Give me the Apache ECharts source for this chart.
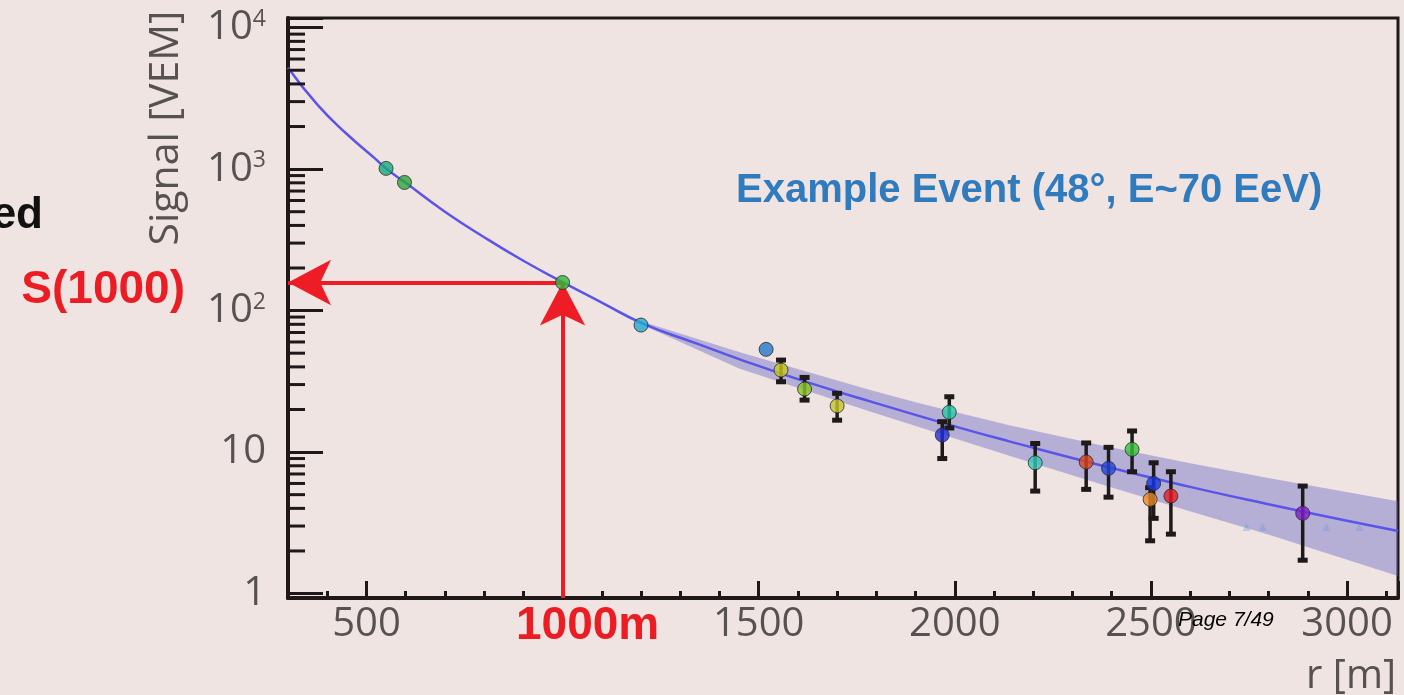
<!DOCTYPE html>
<html>
<head>
<meta charset="utf-8">
<script src="https://cdn.jsdelivr.net/npm/echarts@6/dist/echarts.min.js"></script>
<style>
html,body{margin:0;padding:0;background:#f0e4e2;}
#c{width:1404px;height:695px;}
</style>
</head>
<body>
<div id="c"></div>
<script>
// ---------------- data ----------------
const xRange = [300, 3130];
const yRange = [0.93, 11700];

const xTickLabels = [500, 1500, 2000, 2500, 3000];
const yTickValues = [1, 10, 100, 1000, 10000];
const yTickTexts = ['1', '10', '10{s|2}', '10{s|3}', '10{s|4}'];
const yMinorTicks = [2,3,4,5,6,7,8,9, 20,30,40,50,60,70,80,90, 200,300,400,500,600,700,800,900, 2000,3000,4000,5000,6000,7000,8000,9000];

// stations
const stationR = [550, 597, 1000, 1200, 1519, 1557, 1617, 1700, 1986, 1968, 2205, 2335, 2392, 2452, 2507, 2498, 2551, 2887];
const stationS = [1012, 805, 158, 79, 53.2, 38, 27.9, 21.2, 19.1, 13.2, 8.4, 8.5, 7.67, 10.45, 6.0, 4.63, 4.89, 3.69];
const stationErrLow  = [null, null, null, null, null, 31.4, 23.3, 16.8, 14.8, 9.0, 5.3, 5.45, 4.8, 7.26, 3.4, 2.36, 2.63, 1.72];
const stationErrHigh = [null, null, null, null, null, 44.7, 33.7, 26.0, 24.6, 16.4, 11.5, 11.6, 10.8, 14.1, 8.4, 5.6, 7.26, 5.75];
const stationColors = ['#17a97c', '#2aa83a', '#2fb83a', '#22a8cc', '#2479c9', '#c9c81e', '#86c423', '#c6c52a', '#25c9a9', '#2330d6', '#34c7b6', '#d9461f', '#2345d8', '#32c238', '#1536e6', '#ea8a24', '#e81a1f', '#7e1fc8'];

// faint non-triggered markers
const ghostR = [2744, 2785, 2948, 3032];
const ghostS = [2.95, 2.95, 2.95, 2.95];

// fitted lateral distribution function
const ldfR = [300, 376, 450, 520, 550, 600, 700, 800, 900, 1000, 1100, 1200, 1350, 1450, 1600, 1782, 2000, 2139, 2369, 2597, 2803, 3000, 3130];
const ldfS = [5200, 2830, 1770, 1200, 1010, 800, 500, 330, 225, 159, 114, 82, 57.4, 45.4, 32.8, 22.9, 15.2, 11.9, 8.1, 5.7, 4.26, 3.27, 2.77];

// uncertainty band of the fit
const bandR    = [1000, 1200, 1450, 1782, 1910, 2139, 2369, 2597, 2803, 3130];
const bandHigh = [159, 84, 51, 27.6, 22.1, 15.5, 11.2, 8.36, 6.53, 4.49];
const bandLow  = [159, 80, 39, 19.4, 14.95, 9.42, 5.98, 3.83, 2.59, 1.33];

// S(1000) read-off
const refR = 1000;
const refS = 158;

// ---------------- chart ----------------
const axisColor = '#1e1819';
const labelColor = '#575252';
const chart = echarts.init(document.getElementById('c'), null, {renderer: 'canvas'});

const errData = [];
stationR.forEach((r, i) => {
  if (stationErrLow[i] != null) errData.push([r, stationErrLow[i], stationErrHigh[i]]);
});

const option = {
  backgroundColor: '#f0e4e2',
  animation: false,
  grid: {left: 288, right: 6, top: 18, bottom: 97, show: true, borderColor: axisColor, borderWidth: 3, backgroundColor: 'transparent'},
  xAxis: {
    type: 'value', min: xRange[0], max: xRange[1],
    axisLine: {show: true, onZero: false, lineStyle: {color: axisColor, width: 4}},
    axisTick: {show: true, inside: true, length: 17, lineStyle: {color: axisColor, width: 3}},
    minorTick: {show: true, splitNumber: 5, length: 7, lineStyle: {color: axisColor, width: 3}},
    splitLine: {show: false},
    axisLabel: {
      margin: 7, color: labelColor, fontSize: 40, fontFamily: 'Open Sans',
      showMinLabel: false, showMaxLabel: false,
      formatter: v => (xTickLabels.indexOf(Math.round(v)) >= 0 ? String(Math.round(v)) : '')
    }
  },
  yAxis: {
    type: 'log', logBase: 10, min: yRange[0], max: yRange[1],
    axisLine: {show: true, lineStyle: {color: axisColor, width: 4}},
    axisTick: {show: true, inside: true, length: 35, lineStyle: {color: axisColor, width: 3}},
    splitLine: {show: false},
    axisLabel: {
      margin: 22, color: labelColor, fontSize: 40, fontFamily: 'Open Sans',
      formatter: v => {
        for (let i = 0; i < yTickValues.length; i++) {
          if (Math.abs(Math.log10(v) - Math.log10(yTickValues[i])) < 1e-6) return yTickTexts[i];
        }
        return '';
      },
      rich: {s: {fontSize: 23, verticalAlign: 'top', fontFamily: 'Open Sans', color: labelColor}}
    }
  },
  graphic: [
    {type: 'text', x: 166, y: 128, rotation: Math.PI / 2, z: 100,
     style: {text: 'Signal [VEM]', font: '41px "Open Sans"', fill: labelColor, align: 'center', verticalAlign: 'middle'}},
    {type: 'text', x: 1396, y: 677, z: 100,
     style: {text: 'r [m]', font: '40px "Open Sans"', fill: labelColor, align: 'right', verticalAlign: 'middle'}},
    {type: 'text', x: 43, y: 216, z: 100,
     style: {text: 'ed', font: 'bold 44px "Liberation Sans"', fill: '#111111', align: 'right', verticalAlign: 'middle'}},
    {type: 'text', x: 185, y: 290, z: 100,
     style: {text: 'S(1000)', font: 'bold 46px "Liberation Sans"', fill: '#ec1c24', align: 'right', verticalAlign: 'middle'}},
    {type: 'text', x: 516, y: 626, z: 100,
     style: {text: '1000m', font: 'bold 46px "Liberation Sans"', fill: '#ec1c24', align: 'left', verticalAlign: 'middle'}},
    {type: 'text', x: 736, y: 191, z: 100,
     style: {text: 'Example Event (48°, E~70 EeV)', font: 'bold 40px "Liberation Sans"', fill: '#2f7bbd', align: 'left', verticalAlign: 'middle'}},
    {type: 'text', x: 1178, y: 620, z: 100,
     style: {text: 'Page 7/49', font: 'italic 21px "Liberation Sans"', fill: '#000000', align: 'left', verticalAlign: 'middle'}}
  ],
  series: [
    { // uncertainty band
      type: 'custom', z: 1, silent: true, clip: true,
      data: bandR.map((r, i) => [r, bandHigh[i], bandLow[i]]),
      renderItem: (params, api) => {
        if (params.dataIndex !== 0) return null;
        const pts = [];
        for (let i = 0; i < bandR.length; i++) pts.push(api.coord([bandR[i], bandHigh[i]]));
        for (let i = bandR.length - 1; i >= 0; i--) pts.push(api.coord([bandR[i], bandLow[i]]));
        return {type: 'polygon', shape: {points: pts}, style: {fill: 'rgba(92,96,196,0.40)'}};
      }
    },
    { // minor ticks on log axis
      type: 'custom', z: 6, silent: true, clip: false,
      data: yMinorTicks.map(v => [xRange[0], v]),
      renderItem: (params, api) => {
        const p = api.coord([api.value(0), api.value(1)]);
        return {type: 'line', shape: {x1: p[0], y1: p[1], x2: p[0] + 17, y2: p[1]}, style: {stroke: axisColor, lineWidth: 3}};
      }
    },
    { // fit
      type: 'line', z: 3, silent: true,
      data: ldfR.map((r, i) => [r, ldfS[i]]),
      smooth: 0.5, symbol: 'none',
      lineStyle: {color: '#5a55e8', width: 2.5},
      markLine: {
        silent: true, z: 4, animation: false,
        symbol: ['none', 'arrow'], symbolSize: [34, 43],
        lineStyle: {color: '#ee1c24', width: 4, type: 'solid'},
        label: {show: false},
        emphasis: {disabled: true},
        data: [
          [{coord: [refR, refS]}, {coord: [xRange[0], refS]}],
          [{coord: [refR, yRange[0]]}, {coord: [refR, refS]}]
        ]
      }
    },
    { // faint markers
      type: 'scatter', z: 4, silent: true,
      data: ghostR.map((r, i) => [r, ghostS[i]]),
      symbol: 'triangle', symbolSize: 8,
      itemStyle: {color: 'rgba(110,150,230,0.45)'}
    },
    { // error bars
      type: 'custom', z: 8, silent: true,
      data: errData,
      renderItem: (params, api) => {
        const r = api.value(0), lo = api.value(1), hi = api.value(2);
        const a = api.coord([r, hi]), b = api.coord([r, lo]);
        const st = {stroke: '#1f1a1a', lineWidth: 3.5};
        const cap = {stroke: '#1f1a1a', lineWidth: 5};
        return {type: 'group', children: [
          {type: 'line', shape: {x1: a[0], y1: a[1], x2: b[0], y2: b[1]}, style: st},
          {type: 'line', shape: {x1: a[0] - 5, y1: a[1], x2: a[0] + 5, y2: a[1]}, style: cap},
          {type: 'line', shape: {x1: b[0] - 5, y1: b[1], x2: b[0] + 5, y2: b[1]}, style: cap}
        ]};
      }
    },
    { // stations
      type: 'scatter', z: 10, silent: true,
      data: stationR.map((r, i) => [r, stationS[i]]),
      symbol: 'circle', symbolSize: 14,
      itemStyle: {color: p => stationColors[p.dataIndex], borderColor: '#2a2a2a', borderWidth: 1}
    }
  ]
};
chart.setOption(option);
</script>
</body>
</html>
